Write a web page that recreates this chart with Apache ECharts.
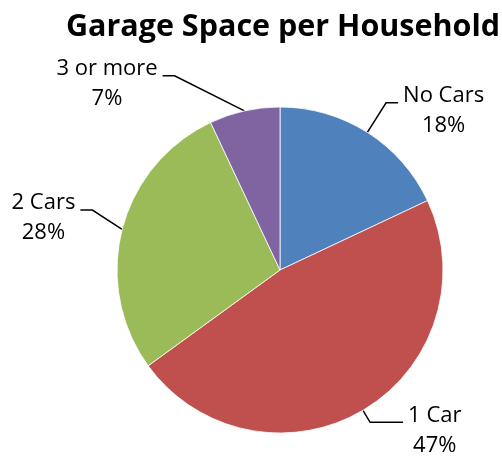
<!DOCTYPE html>
<html><head><meta charset="utf-8">
<script src="https://cdn.jsdelivr.net/npm/echarts@6/dist/echarts.min.js"></script>
<style>html,body{margin:0;padding:0;background:#fff}#c{width:502px;height:457px}</style>
</head><body><div id="c"></div>
<script>
const titleText = 'Garage Space per Household';
const categories = ['No Cars', '1 Car', '2 Cars', '3 or more'];
const values = [18, 47, 28, 7];
const colors = ['#4F81BD', '#C0504D', '#9BBB59', '#8064A2'];
// per-slice leader line styling (lengths and elbow offsets)
const lineLen = [35, 14, 40, 36];
const lineLen2 = [12, 33, 12, 12];
const elbowShift = [[0, 0], [0, 0], [9, -9.5], [-62, 0]];
const labelRaise = 22; // label block top sits this far above the horizontal leader

const chart = echarts.init(document.getElementById('c'), null, {renderer: 'canvas'});
const FONT = 'Open Sans';
chart.setOption({
  animation: false,
  title: {
    text: titleText, left: 278, top: 7, textAlign: 'center',
    textStyle: {fontFamily: FONT, fontWeight: 'bold', fontSize: 30.5, color: '#000'}
  },
  series: [{
    type: 'pie',
    center: [280, 270],
    radius: 163,
    startAngle: 90,
    clockwise: true,
    avoidLabelOverlap: false,
    itemStyle: {borderColor: '#fff', borderWidth: 0.8},
    label: {
      show: true, position: 'outside', formatter: '{b}\n{d}%',
      fontFamily: FONT, fontSize: 22, lineHeight: 30, color: '#000',
      distanceToLabelLine: 5
    },
    labelLine: {show: true, lineStyle: {color: '#000', width: 1.5}},
    labelLayout: function (p) {
      const r = p.labelRect;
      const s = elbowShift[p.dataIndex];
      const pts = p.labelLinePoints;
      if (!pts) return {};
      const np = [
        [pts[0][0], pts[0][1]],
        [pts[1][0] + s[0], pts[1][1] + s[1]],
        [pts[2][0] + s[0], pts[2][1] + s[1]]
      ];
      return {
        x: r.x + r.width / 2 + s[0],
        y: np[2][1] - labelRaise,
        align: 'center',
        verticalAlign: 'top',
        labelLinePoints: np
      };
    },
    data: categories.map((name, i) => ({
      name: name, value: values[i],
      itemStyle: {color: colors[i]},
      labelLine: {length: lineLen[i], length2: lineLen2[i]}
    }))
  }]
});
</script></body></html>
